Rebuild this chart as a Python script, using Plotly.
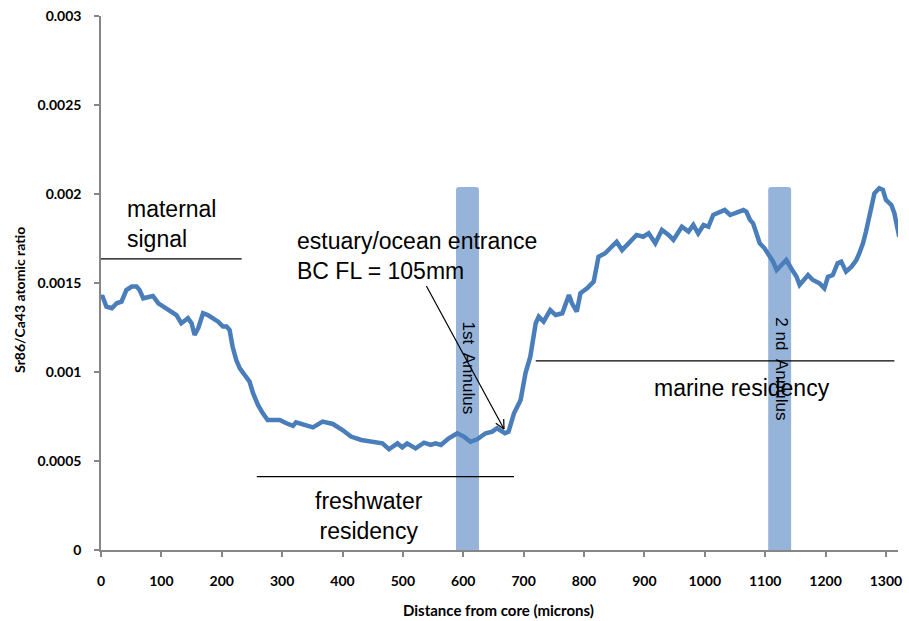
import plotly.graph_objects as go
import math

# ---- data ----
distance = [1, 2, 9, 18, 26, 34, 42, 51, 59, 64, 70, 78, 86, 95, 103, 114, 125, 133, 144, 150,
            155, 161, 169, 177, 185, 194, 202, 208, 213, 218, 224, 230, 238, 246, 252, 260, 268,
            276, 287, 296, 307, 318, 323, 337, 351, 367, 384, 400, 414, 431, 450, 466, 477, 491,
            499, 507, 521, 535, 546, 554, 563, 576, 590, 601, 612, 623, 637, 648, 656, 669, 675,
            684, 695, 703, 711, 720, 725, 733, 744, 753, 764, 775, 780, 788, 794, 805, 816, 824,
            835, 846, 854, 863, 874, 887, 898, 907, 918, 929, 940, 948, 962, 973, 981, 989, 998,
            1006, 1014, 1022, 1033, 1042, 1050, 1058, 1064, 1069, 1075, 1080, 1086, 1091, 1099,
            1108, 1113, 1119, 1124, 1130, 1135, 1143, 1152, 1157, 1166, 1171, 1179, 1190, 1198,
            1204, 1212, 1220, 1226, 1234, 1243, 1251, 1256, 1262, 1267, 1275, 1281, 1289, 1295,
            1300, 1309, 1314, 1320, 1322]
sr_ca = [0.001423, 0.00143, 0.001367, 0.001358, 0.001386, 0.001395, 0.00146, 0.00148, 0.00148,
         0.00146, 0.001414, 0.001423, 0.001427, 0.001386, 0.001367, 0.001339, 0.00132, 0.001274,
         0.001302, 0.001274, 0.001208, 0.001246, 0.00133, 0.00132, 0.001302, 0.001283, 0.001255,
         0.001255, 0.001236, 0.001142, 0.001067, 0.00102, 0.000983, 0.000946, 0.00088, 0.000815,
         0.000768, 0.00073, 0.00073, 0.00073, 0.000712, 0.000697, 0.000717, 0.000702, 0.000689,
         0.000721, 0.000708, 0.000674, 0.000637, 0.000618, 0.000608, 0.000599, 0.000566,
         0.000599, 0.000577, 0.000599, 0.000571, 0.000603, 0.00059, 0.000599, 0.00059, 0.000627,
         0.000656, 0.000637, 0.000608, 0.000622, 0.000656, 0.000665, 0.000684, 0.000656,
         0.000665, 0.000768, 0.000843, 0.000993, 0.001086, 0.001274, 0.001311, 0.001283,
         0.001348, 0.00132, 0.00133, 0.001433, 0.001386, 0.001339, 0.001442, 0.00147, 0.001508,
         0.001648, 0.001667, 0.001704, 0.001732, 0.001685, 0.001723, 0.00177, 0.00176, 0.001779,
         0.001723, 0.001798, 0.00177, 0.001742, 0.001816, 0.001789, 0.001826, 0.001779,
         0.001826, 0.001816, 0.001882, 0.001892, 0.00191, 0.001882, 0.001892, 0.0019, 0.00191,
         0.0019, 0.001854, 0.001835, 0.001779, 0.001723, 0.001695, 0.001648, 0.00162, 0.001573,
         0.001592, 0.001611, 0.001629, 0.001583, 0.001535, 0.001489, 0.001526, 0.001545,
         0.001517, 0.001498, 0.00147, 0.001535, 0.001545, 0.001611, 0.00162, 0.001564, 0.001592,
         0.001629, 0.001667, 0.001723, 0.001789, 0.0019, 0.002004, 0.002032, 0.002023, 0.001967,
         0.001938, 0.001892, 0.001798, 0.00176]

x_ticks = [0, 100, 200, 300, 400, 500, 600, 700, 800, 900, 1000, 1100, 1200, 1300]
y_ticks = [0, 0.0005, 0.001, 0.0015, 0.002, 0.0025, 0.003]
y_tick_text = ["0", "0.0005", "0.001", "0.0015", "0.002", "0.0025", "0.003"]

annulus_bands = [(588, 626, "1st  Annulus"), (1105, 1143, "2 nd  Annulus")]
annulus_top = 0.00204

residency_lines = [  # (x0, x1, y)
    (0, 233, 0.001635),
    (258, 684, 0.000412),
    (720, 1314, 0.001063),
]

X_MAX = 1320
Y_MAX = 0.003

# ---- layout geometry ----
W, H = 909, 621
ML, MR, MT, MB = 101, 7, 16, 71
PW = W - ML - MR
PH = H - MT - MB


def to_px(x, y):
    return ML + x / X_MAX * PW, MT + PH - y / Y_MAX * PH


def to_data(px, py):
    return (px - ML) / PW * X_MAX, (MT + PH - py) / PH * Y_MAX


fig = go.Figure()

shapes = []
# annulus bands (rounded rectangles)
rx = 3 / PW * X_MAX
ry = 3 / PH * Y_MAX
for x0, x1, _ in annulus_bands:
    y0, y1 = 0.0, annulus_top
    path = (f"M {x0},{y0} L {x0},{y1-ry} Q {x0},{y1} {x0+rx},{y1} "
            f"L {x1-rx},{y1} Q {x1},{y1} {x1},{y1-ry} L {x1},{y0} Z")
    shapes.append(dict(type="path", path=path, xref="x", yref="y",
                       fillcolor="rgb(150,180,217)", line=dict(width=0),
                       layer="below"))

for x0, x1, y in residency_lines:
    shapes.append(dict(type="line", x0=x0, x1=x1, y0=y, y1=y, xref="x", yref="y",
                       line=dict(color="black", width=1.2), layer="above"))

fig.add_trace(go.Scatter(x=distance, y=sr_ca, mode="lines",
                         line=dict(color="#4a7ebb", width=4.5), hoverinfo="skip",
                         showlegend=False))

# arrow (estuary entrance)
tail_px = (428, 286)
tip_px = (506, 429)
tx, ty = to_data(*tail_px)
hx, hy = to_data(*tip_px)
shapes.append(dict(type="line", x0=tx, y0=ty, x1=hx, y1=hy, xref="x", yref="y",
                   line=dict(color="black", width=1.2), layer="above"))
dx, dy = tail_px[0] - tip_px[0], tail_px[1] - tip_px[1]
L = math.hypot(dx, dy)
ux, uy = dx / L, dy / L
for ang in (27, -27):
    a = math.radians(ang)
    vx = ux * math.cos(a) - uy * math.sin(a)
    vy = ux * math.sin(a) + uy * math.cos(a)
    ex, ey = to_data(tip_px[0] + 10 * vx, tip_px[1] + 10 * vy)
    shapes.append(dict(type="line", x0=hx, y0=hy, x1=ex, y1=ey, xref="x", yref="y",
                       line=dict(color="black", width=1.2), layer="above"))

TXT = dict(family="Liberation Sans, Arial, sans-serif", size=23, color="black")
annotations = []


def add_text(px, py, text, xanchor="center", size=23, angle=0, align="center"):
    x, y = to_data(px, py)
    annotations.append(dict(x=x, y=y, xref="x", yref="y", text=text, showarrow=False,
                            xanchor=xanchor, yanchor="middle", textangle=angle, align=align,
                            font=dict(TXT, size=size)))


add_text(125, 224, "maternal<br>signal", xanchor="left", align="left")
add_text(296, 256, "estuary/ocean entrance<br>BC FL = 105mm", xanchor="left", align="left")
add_text(370, 516, "freshwater<br>residency")
add_text(745, 388, "marine residency")
for (x0, x1, label), cy in zip(annulus_bands, (368, 369)):
    cx_px = to_px((x0 + x1) / 2, 0)[0] + 2
    add_text(cx_px, cy, label, size=17, angle=90)

# axis titles
AX_FONT = dict(family="Lato, 'Open Sans', sans-serif", size=14, color="black", weight="bold")
annotations.append(dict(text="Sr86/Ca43 atomic ratio", xref="paper", yref="paper",
                        x=(18.5 - ML) / PW, y=(MT + PH - 300) / PH, showarrow=False,
                        textangle=-90, xanchor="center", yanchor="middle", font=AX_FONT))
annotations.append(dict(text="Distance from core (microns)", xref="paper", yref="paper",
                        x=(500 - ML) / PW, y=(MT + PH - 610) / PH, showarrow=False,
                        xanchor="center", yanchor="middle", font=dict(AX_FONT, size=15)))

TICK_FONT = dict(family="Lato, 'Open Sans', sans-serif", size=14, color="black", weight="bold")
fig.update_layout(
    width=W, height=H,
    margin=dict(l=ML, r=MR, t=MT, b=MB),
    paper_bgcolor="white", plot_bgcolor="white",
    shapes=shapes, annotations=annotations,
    xaxis=dict(range=[0, X_MAX], tickvals=x_ticks, showgrid=False, zeroline=False,
               showline=True, linecolor="#868686", linewidth=1.5,
               ticks="outside", ticklen=5, tickcolor="#868686", tickwidth=1.5,
               tickfont=TICK_FONT, ticklabelstandoff=12),
    yaxis=dict(range=[0, Y_MAX], tickvals=y_ticks, ticktext=y_tick_text, showgrid=False,
               zeroline=False, showline=True, linecolor="#868686", linewidth=1.5,
               ticks="outside", ticklen=5, tickcolor="#868686", tickwidth=1.5,
               tickfont=TICK_FONT, ticklabelstandoff=10),
)

fig.write_html("out.html")
